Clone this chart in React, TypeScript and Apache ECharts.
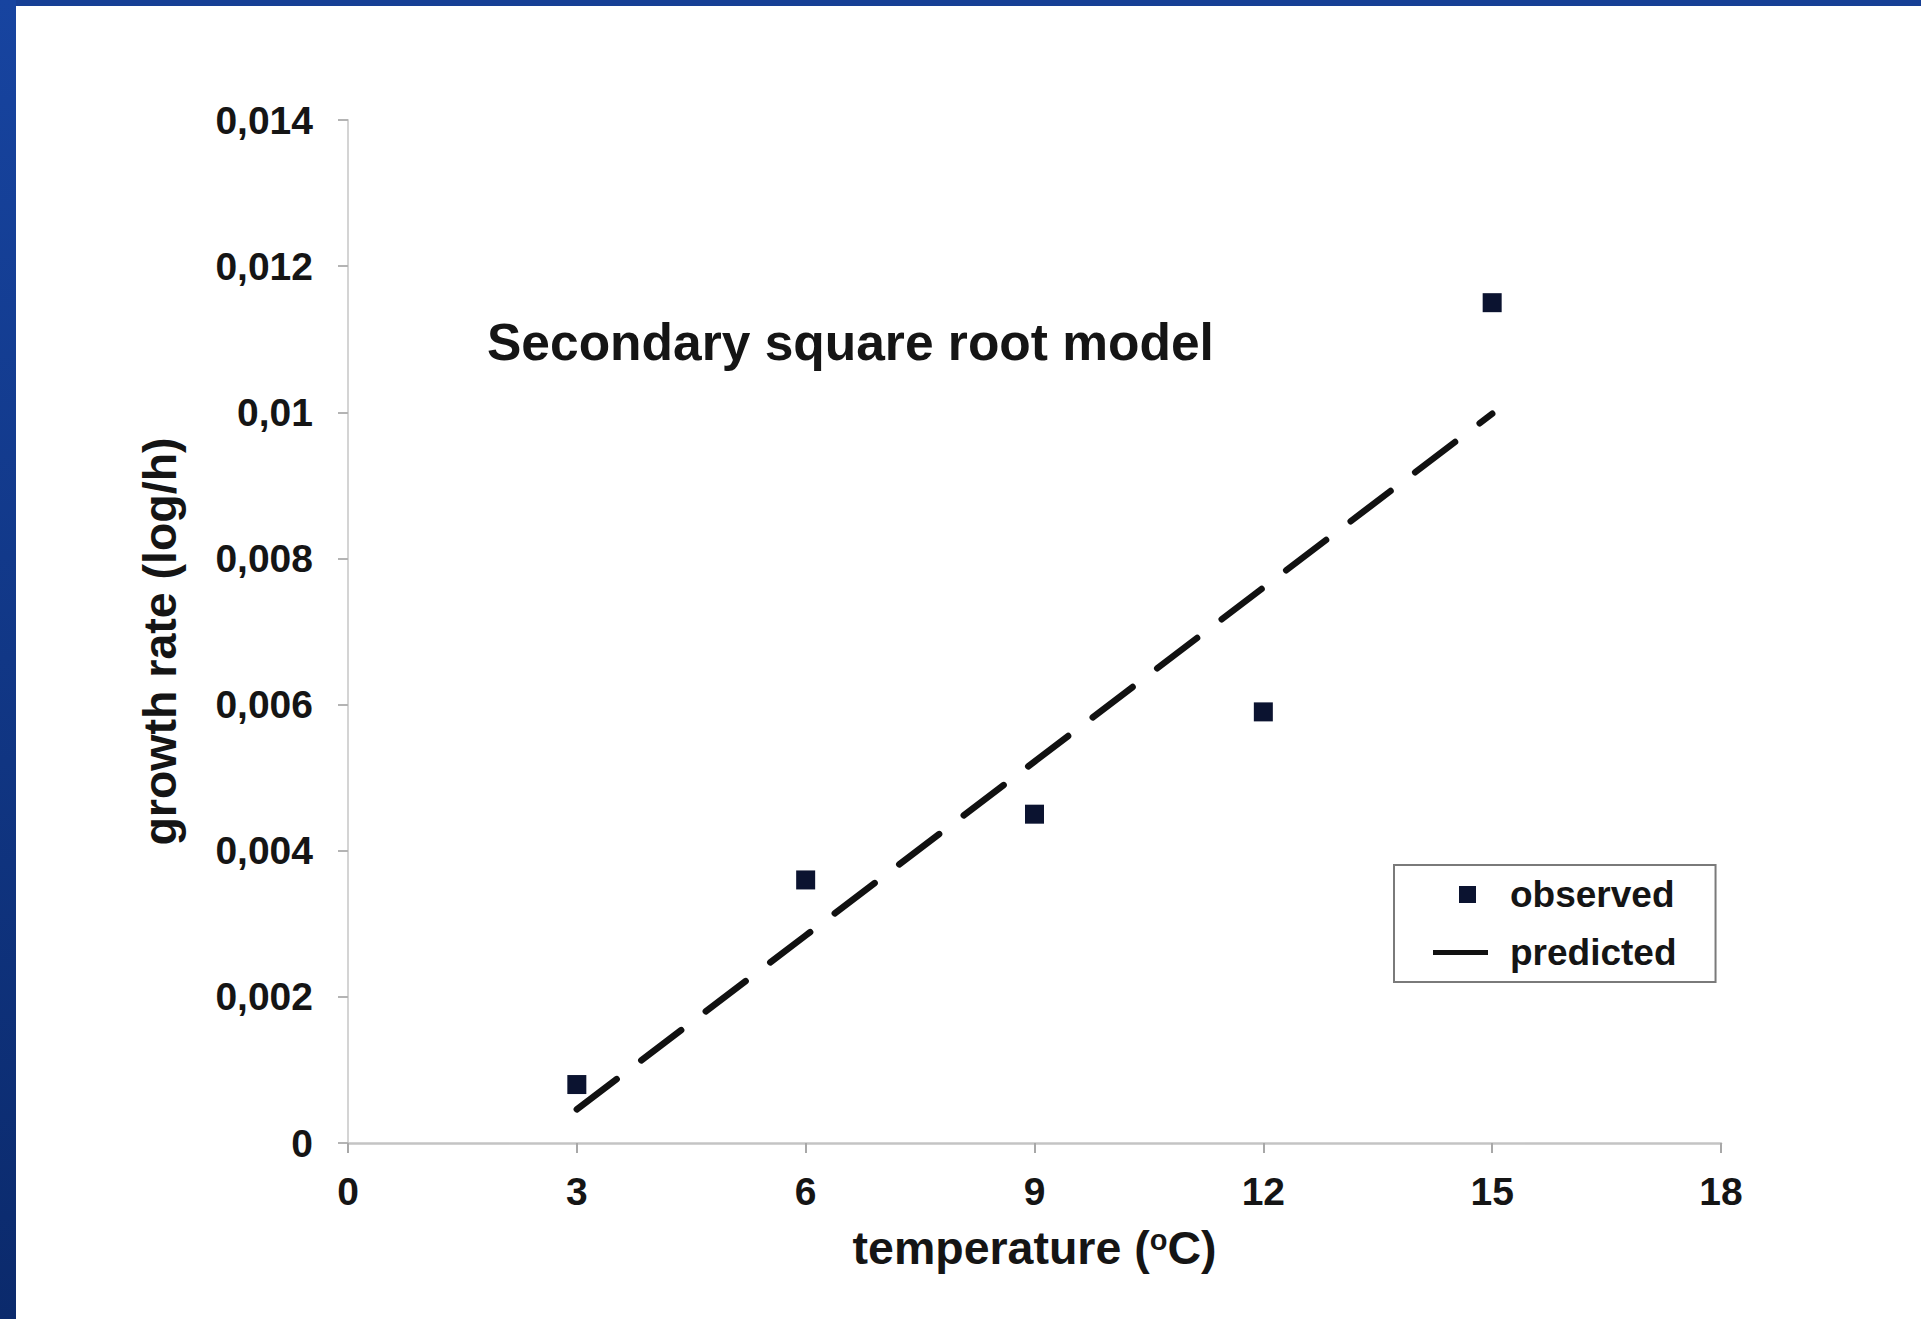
import React, { useEffect, useRef } from "react";
import * as echarts from "echarts";

// ---- data ----
const temperatures = [3, 6, 9, 12, 15];
const observedRates = [0.0008, 0.0036, 0.0045, 0.0059, 0.0115];
const predictedRates = [0.00046, 0.00284, 0.00522, 0.0076, 0.00998];

const xMin = 0;
const xMax = 18;
const xInterval = 3;
const yMin = 0;
const yMax = 0.014;
const yInterval = 0.002;

const chartTitle = "Secondary square root model";
const xAxisName = "temperature ({sup|o}C)";
const yAxisName = "growth rate (log/h)";
const seriesNames = ["observed", "predicted"];

const FONT = "'Liberation Sans', Arial, Helvetica, sans-serif";

export default function App() {
  const ref = useRef<HTMLDivElement | null>(null);

  useEffect(() => {
    if (!ref.current) return;
    const chart = echarts.init(ref.current, undefined, { renderer: "svg" });

    const observedData = temperatures.map((t, i) => [t, observedRates[i]]);
    const predictedData = temperatures.map((t, i) => [t, predictedRates[i]]);

    const fmt = (v: number) =>
      parseFloat(v.toFixed(4)).toString().replace(".", ",");

    chart.setOption({
      animation: false,
      backgroundColor: "#ffffff",
      title: {
        text: chartTitle,
        left: 487,
        top: 316,
        padding: 0,
        textStyle: {
          fontFamily: FONT,
          fontWeight: "bold",
          fontSize: 51.5,
          lineHeight: 52,
          color: "#151515",
        },
      },
      graphic: [
        {
          type: "rect",
          left: 0,
          top: 0,
          shape: { width: 1921, height: 6 },
          style: { fill: "#163f95" },
          z: 100,
        },
        {
          type: "rect",
          left: 0,
          top: 0,
          shape: { width: 16, height: 1319 },
          style: {
            fill: new echarts.graphic.LinearGradient(0, 0, 0, 1, [
              { offset: 0, color: "#1744a0" },
              { offset: 1, color: "#0b2a6c" },
            ]),
          },
          z: 100,
        },
      ],
      legend: {
        orient: "vertical",
        left: 1394,
        top: 865,
        padding: [11, 39, 11, 39],
        itemGap: 21,
        itemWidth: 55,
        itemHeight: 17,
        symbolKeepAspect: true,
        borderColor: "#7a7a7a",
        borderWidth: 2,
        backgroundColor: "#ffffff",
        data: [
          {
            name: seriesNames[0],
            icon: "path://M0,0 M55,17 M26,0 H43 V17 H26 Z",
            itemStyle: { color: "#0b1330" },
          },
          {
            name: seriesNames[1],
            icon: "path://M0,0 H55 V5 H0 Z",
            itemStyle: { color: "#111111" },
          },
        ],
        textStyle: {
          fontFamily: FONT,
          fontWeight: "bold",
          fontSize: 37,
          lineHeight: 37,
          color: "#151515",
          padding: [0, 0, 0, 17],
        },
      },
      grid: {
        left: 348,
        right: 200,
        top: 120,
        bottom: 176,
        containLabel: false,
      },
      xAxis: {
        type: "value",
        min: xMin,
        max: xMax,
        interval: xInterval,
        name: xAxisName,
        nameLocation: "middle",
        nameGap: 82,
        nameTextStyle: {
          fontFamily: FONT,
          fontWeight: "bold",
          fontSize: 46.5,
          lineHeight: 46,
          color: "#151515",
          rich: {
            sup: {
              fontFamily: FONT,
              fontWeight: "bold",
              fontSize: 29,
              lineHeight: 29,
              verticalAlign: "top",
              color: "#151515",
            },
          },
        },
        axisLine: { show: true, lineStyle: { color: "#c4c4c4", width: 2.5 } },
        axisTick: {
          show: true,
          length: 10,
          lineStyle: { color: "#a8a8a8", width: 2 },
        },
        axisLabel: {
          margin: 29,
          fontFamily: FONT,
          fontWeight: "bold",
          fontSize: 39,
          lineHeight: 39,
          color: "#151515",
        },
        splitLine: { show: false },
      },
      yAxis: {
        type: "value",
        min: yMin,
        max: yMax,
        interval: yInterval,
        name: yAxisName,
        nameLocation: "middle",
        nameGap: 165,
        nameTextStyle: {
          fontFamily: FONT,
          fontWeight: "bold",
          fontSize: 46.5,
          lineHeight: 47,
          color: "#151515",
          padding: [0, 20, 0, 0],
        },
        axisLine: { show: true, lineStyle: { color: "#d4d4d4", width: 2 } },
        axisTick: {
          show: true,
          length: 10,
          lineStyle: { color: "#b4b4b4", width: 2 },
        },
        axisLabel: {
          margin: 35,
          fontFamily: FONT,
          fontWeight: "bold",
          fontSize: 39,
          lineHeight: 39,
          color: "#151515",
          formatter: fmt,
        },
        splitLine: { show: false },
      },
      series: [
        {
          name: seriesNames[0],
          type: "scatter",
          symbol: "rect",
          symbolSize: 19,
          itemStyle: { color: "#0b1330", opacity: 1 },
          data: observedData,
          z: 3,
        },
        {
          name: seriesNames[1],
          type: "line",
          symbol: "none",
          showSymbol: false,
          itemStyle: { color: "#111111" },
          lineStyle: {
            color: "#111111",
            width: 6.5,
            type: [50, 31],
            cap: "round",
          },
          data: predictedData,
          z: 2,
        },
      ],
    });

    return () => {
      chart.dispose();
    };
  }, []);

  return (
    <div
      ref={ref}
      style={{
        position: "fixed",
        left: 0,
        top: 0,
        width: "1921px",
        height: "1319px",
      }}
    />
  );
}
